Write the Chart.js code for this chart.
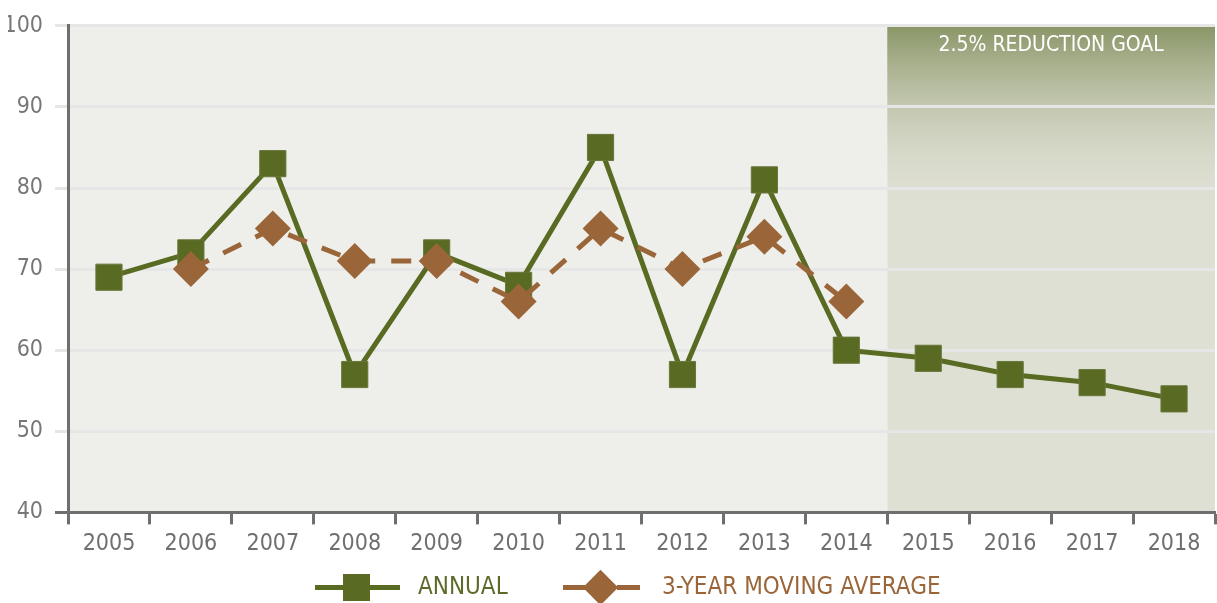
<!DOCTYPE html>
<html>
<head>
<meta charset="utf-8">
<script src="https://cdn.jsdelivr.net/npm/chart.js@4/dist/chart.umd.min.js"></script>
<style>
  body { margin: 0; background: #fff; }
  #wrap { position: relative; width: 1217px; height: 603px; }
  .legend { position: absolute; top: 570px; left: 0; height: 34px; font-family: "DejaVu Sans Condensed", "Roboto", sans-serif; font-size: 24px; }
  .item { position: absolute; top: 0; height: 34px; }
  .item span { position: absolute; }
  .txt { top: 2px; white-space: nowrap; }
</style>
</head>
<body>
<div id="wrap">
  <canvas id="myChart" width="1217" height="603"></canvas>
  <div class="legend">
    <div class="item" style="left:315px">
      <span style="left:0;top:15px;width:85px;height:5px;background:#596a23"></span>
      <span style="left:28px;top:4px;width:27px;height:27px;background:#596a23"></span>
      <span class="txt" style="left:103px;color:#5d6b2a">ANNUAL</span>
    </div>
    <div class="item" style="left:563px">
      <span style="left:0;top:15px;width:22px;height:5px;background:#9a6639"></span>
      <span style="left:25px;top:5px;width:25px;height:25px;background:#9a6639;transform:rotate(45deg)"></span>
      <span style="left:54px;top:15px;width:23px;height:5px;background:#9a6639"></span>
      <span class="txt" style="left:99px;color:#9a6639">3-YEAR MOVING AVERAGE</span>
    </div>
  </div>
</div>
<script>
// données
var years = ['2005', '2006', '2007', '2008', '2009', '2010', '2011', '2012', '2013', '2014', '2015', '2016', '2017', '2018'];
var annual = [69, 72, 83, 57, 72, 68, 85, 57, 81, 60, 59, 57, 56, 54];
var movingAvg = [null, 70, 75, 71, 71, 66, 75, 70, 74, 66, null, null, null, null];
var yTicks = [40, 50, 60, 70, 80, 90, 100];
var goalStart = '2015';
var goalLabel = '2.5% REDUCTION GOAL';

var fontName = '"DejaVu Sans Condensed", "Roboto", sans-serif';

// fond du graphique + zone objectif
var backgroundPlugin = {
    id: 'zones',
    beforeDraw: function(chart) {
        var ctx = chart.ctx;
        var area = chart.chartArea;
        var x = chart.scales.x;
        var split = x.getPixelForValue(years.indexOf(goalStart)) - (x.getPixelForValue(1) - x.getPixelForValue(0)) / 2;

        ctx.save();
        ctx.fillStyle = '#eeefea';
        ctx.fillRect(area.left, area.top, split - area.left, area.bottom - area.top);

        ctx.fillStyle = '#dfe0d4';
        ctx.fillRect(split, area.top, area.right - split, area.bottom - area.top);

        var grad = ctx.createLinearGradient(0, area.top, 0, area.top + 190);
        grad.addColorStop(0, 'rgba(137,149,102,1)');
        grad.addColorStop(1, 'rgba(223,224,212,0)');
        ctx.fillStyle = grad;
        ctx.fillRect(split, area.top, area.right - split, 190);

        ctx.fillStyle = '#ffffff';
        ctx.font = '21px ' + fontName;
        ctx.textAlign = 'center';
        ctx.textBaseline = 'middle';
        ctx.fillText(goalLabel, (split + area.right) / 2, area.top + 20);
        ctx.restore();
    }
};

var ctx = document.getElementById('myChart').getContext('2d');
var myChart = new Chart(ctx, {
    type: 'line',
    data: {
        labels: years,
        datasets: [{
            label: 'ANNUAL',
            data: annual,
            borderColor: '#596a23',
            backgroundColor: '#596a23',
            borderWidth: 5,
            pointStyle: 'rect',
            pointRadius: 18.5,
            pointBorderWidth: 1,
            pointBorderColor: '#68773a',
            tension: 0,
            order: 2
        }, {
            label: '3-YEAR MOVING AVERAGE',
            data: movingAvg,
            borderColor: '#9a6639',
            backgroundColor: '#9a6639',
            borderWidth: 5,
            borderDash: [20, 16],
            pointStyle: 'rectRot',
            pointRadius: 18,
            pointBorderWidth: 0,
            tension: 0,
            order: 1
        }]
    },
    options: {
        responsive: false,
        animation: false,
        layout: {
            autoPadding: false,
            padding: { left: 8, right: 2, top: 17, bottom: 39 }
        },
        plugins: {
            legend: { display: false },
            tooltip: { enabled: false }
        },
        scales: {
            x: {
                offset: true,
                grid: {
                    offset: true,
                    drawOnChartArea: false,
                    tickLength: 12,
                    tickColor: '#6f6f6f',
                    tickWidth: 3
                },
                border: { color: '#6f6f6f', width: 3 },
                ticks: {
                    color: '#6f6f6f',
                    padding: 6,
                    font: { family: fontName, size: 23 }
                }
            },
            y: {
                min: 40,
                max: 100,
                afterBuildTicks: function(axis) {
                    axis.ticks = yTicks.map(function(v) { return { value: v }; });
                },
                afterFit: function(axis) {
                    axis.width = 60;
                },
                grid: {
                    color: function(c) { return c.tick && c.tick.value === 40 ? '#6f6f6f' : '#e6e6e6'; },
                    lineWidth: 3,
                    tickLength: 13
                },
                border: { color: '#6f6f6f', width: 3 },
                ticks: {
                    color: '#777777',
                    padding: 12,
                    font: { family: fontName, size: 23 }
                }
            }
        }
    },
    plugins: [backgroundPlugin]
});
</script>
</body>
</html>
